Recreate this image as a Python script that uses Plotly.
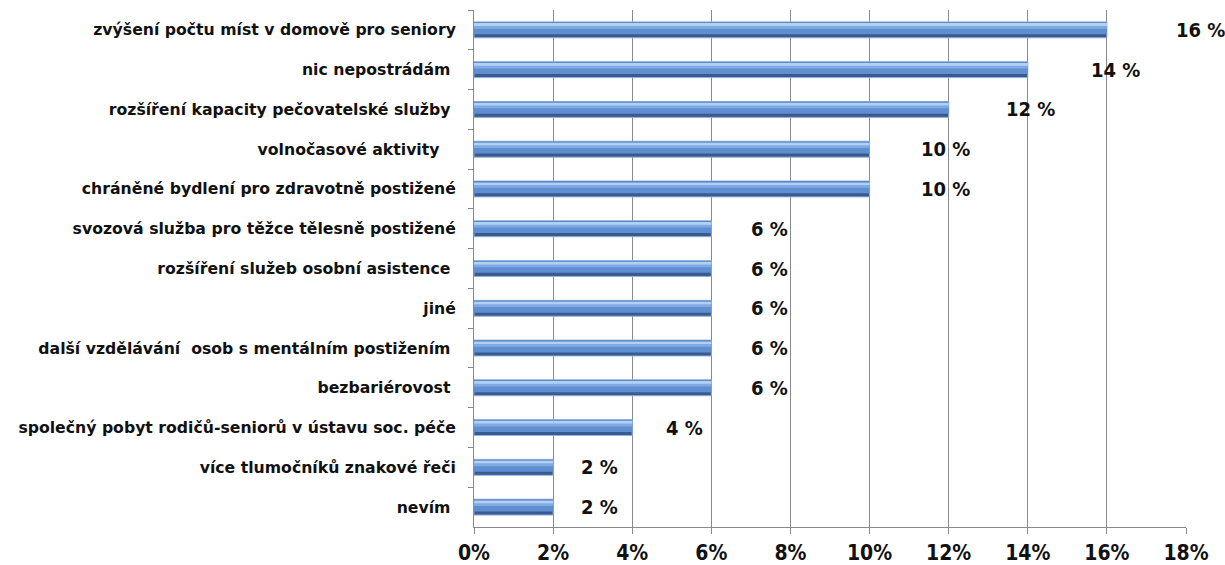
import plotly.graph_objects as go

# Survey answers, listed top to bottom, and their share in percent
categories = [
    "zvýšení počtu míst v domově pro seniory",
    "nic nepostrádám\u00a0",
    "rozšíření kapacity pečovatelské služby\u00a0",
    "volnočasové aktivity\u00a0\u00a0\u00a0",
    "chráněné bydlení pro zdravotně postižené",
    "svozová služba pro těžce tělesně postižené",
    "rozšíření služeb osobní asistence\u00a0",
    "jiné",
    "další vzdělávání  osob s mentálním postižením\u00a0",
    "bezbariérovost\u00a0",
    "společný pobyt rodičů-seniorů v ústavu soc. péče",
    "více tlumočníků znakové řeči",
    "nevím\u00a0",
]
values = [16, 14, 12, 10, 10, 6, 6, 6, 6, 6, 4, 2, 2]
value_labels = [f"{v} %" for v in values]
x_ticks = [0, 2, 4, 6, 8, 10, 12, 14, 16, 18]
x_tick_labels = [f"{t}%" for t in x_ticks]

fig = go.Figure()

# Layered bars give the cylinder-like shading: dark base, mid body, light highlight
layers = [
    dict(color="#3a5a8f", width=0.40, offset=-0.20, line=dict(color="#8fb2e0", width=1)),
    dict(color="#5f8fd0", width=0.30, offset=-0.19, line=dict(width=0)),
    dict(color="#80aae3", width=0.14, offset=-0.17, line=dict(width=0)),
    dict(color="#b3d0f3", width=0.05, offset=-0.15, line=dict(width=0)),
]
for layer in layers:
    fig.add_trace(go.Bar(
        x=values,
        y=categories,
        orientation="h",
        width=layer["width"],
        offset=layer["offset"],
        marker=dict(color=layer["color"], line=layer["line"]),
        hoverinfo="skip",
        showlegend=False,
    ))

narrow = "DejaVu Sans Condensed, Liberation Sans, sans-serif"
label_font = dict(family=narrow, size=20, color="#111111", weight="bold")
for cat, v, txt in zip(categories, values, value_labels):
    # value label sits to the right of its bar, a little further out for longer bars
    fig.add_annotation(
        x=v * 1.074 + 0.5, y=cat, text=txt, showarrow=False,
        xanchor="left", yanchor="middle", font=label_font,
    )

fig.update_layout(
    width=1225, height=565,
    margin=dict(l=474, r=39, t=10, b=38),
    paper_bgcolor="white",
    plot_bgcolor="white",
    barmode="overlay",
    xaxis=dict(
        range=[0, 18],
        tickvals=x_ticks,
        ticktext=x_tick_labels,
        showgrid=True, gridcolor="#8a8a8a", gridwidth=1,
        showline=True, linecolor="#8a8a8a", linewidth=1,
        ticks="outside", ticklen=6, tickcolor="#8a8a8a",
        ticklabelstandoff=1,
        automargin=False,
        tickfont=dict(family=narrow, size=21, color="#111111", weight="bold"),
        zeroline=False,
    ),
    yaxis=dict(
        categoryorder="array", categoryarray=categories,
        autorange="reversed",
        showline=True, linecolor="#8a8a8a", linewidth=1,
        ticks="outside", ticklen=5, tickcolor="#8a8a8a",
        tickson="boundaries",
        showgrid=False,
        ticklabelstandoff=14,
        automargin=False,
        tickfont=dict(family="DejaVu Sans, Verdana, sans-serif",
                      size=15.7, color="#111111", weight="bold"),
    ),
)

fig.write_html("out.html")
